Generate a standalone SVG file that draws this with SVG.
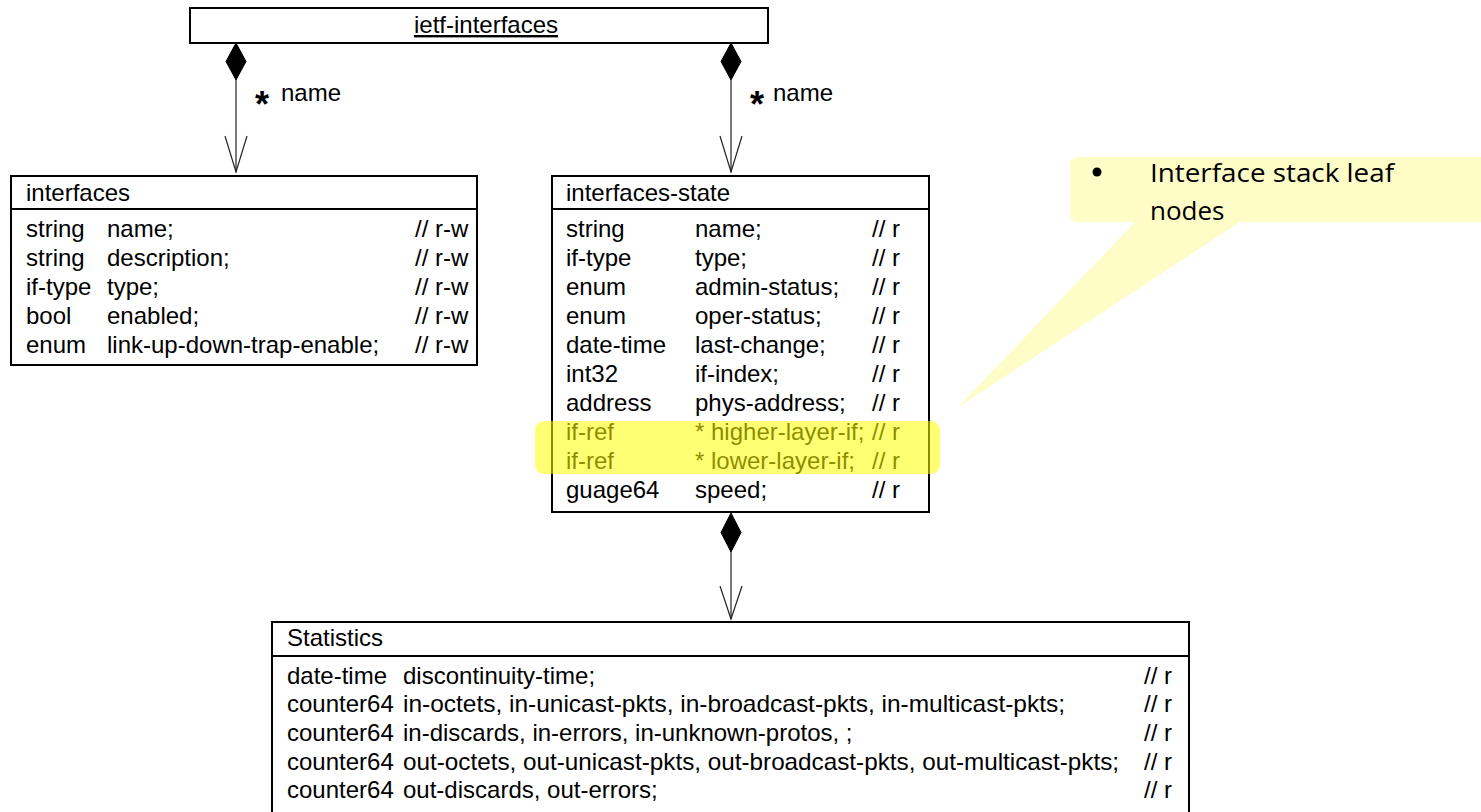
<svg xmlns="http://www.w3.org/2000/svg" width="1481" height="812" viewBox="0 0 1481 812">
<style>
.box{fill:#fff;stroke:#000;stroke-width:2}
.div{stroke:#000;stroke-width:2}
.t{font-family:"Liberation Sans",Arial,sans-serif;font-size:24px;fill:#000}
.conn{stroke:#222;stroke-width:1.2;fill:none}
.dia{fill:#000;stroke:#000;stroke-width:1}
.star{font-family:"Liberation Sans",Arial,sans-serif;font-size:36px;font-weight:bold;fill:#000}
.call{font-family:"Open Sans","Noto Sans",sans-serif;font-size:26px;fill:#000}
</style>

<g id="callout">
  <path d="M1078 157 H1490 V222 H1240 L957 408 L1135 222 H1078 Q1070 222 1070 214 V165 Q1070 157 1078 157 Z" fill="#fefdc8"/>
  <circle cx="1097" cy="172" r="4.5" fill="#000"/>
  <text class="call" x="1150" y="182" textLength="244" lengthAdjust="spacingAndGlyphs">Interface stack leaf</text>
  <text class="call" x="1150" y="220">nodes</text>
</g>

<g id="ietf-interfaces">
  <rect class="box" x="190" y="8" width="578" height="35"/>
  <text class="t" x="486" y="33" text-anchor="middle" text-decoration="underline">ietf-interfaces</text>
</g>

<g id="interfaces">
  <rect class="box" x="11" y="176" width="466" height="189"/>
  <line class="div" x1="11" y1="209" x2="477" y2="209"/>
  <text class="t" x="26" y="201">interfaces</text>
  <text class="t" x="26" y="237">string</text><text class="t" x="107" y="237">name;</text><text class="t" x="415" y="237">// r-w</text>
  <text class="t" x="26" y="266">string</text><text class="t" x="107" y="266">description;</text><text class="t" x="415" y="266">// r-w</text>
  <text class="t" x="26" y="295">if-type</text><text class="t" x="107" y="295">type;</text><text class="t" x="415" y="295">// r-w</text>
  <text class="t" x="26" y="324">bool</text><text class="t" x="107" y="324">enabled;</text><text class="t" x="415" y="324">// r-w</text>
  <text class="t" x="26" y="353">enum</text><text class="t" x="107" y="353">link-up-down-trap-enable;</text><text class="t" x="415" y="353">// r-w</text>
</g>

<g id="interfaces-state">
  <rect class="box" x="552" y="176" width="377" height="336"/>
  <line class="div" x1="552" y1="209" x2="929" y2="209"/>
  <text class="t" x="566" y="201">interfaces-state</text>
  <text class="t" x="566" y="237">string</text><text class="t" x="695" y="237">name;</text><text class="t" x="872" y="237">// r</text>
  <text class="t" x="566" y="266">if-type</text><text class="t" x="695" y="266">type;</text><text class="t" x="872" y="266">// r</text>
  <text class="t" x="566" y="295">enum</text><text class="t" x="695" y="295">admin-status;</text><text class="t" x="872" y="295">// r</text>
  <text class="t" x="566" y="324">enum</text><text class="t" x="695" y="324">oper-status;</text><text class="t" x="872" y="324">// r</text>
  <text class="t" x="566" y="353">date-time</text><text class="t" x="695" y="353">last-change;</text><text class="t" x="872" y="353">// r</text>
  <text class="t" x="566" y="382">int32</text><text class="t" x="695" y="382">if-index;</text><text class="t" x="872" y="382">// r</text>
  <text class="t" x="566" y="411">address</text><text class="t" x="695" y="411">phys-address;</text><text class="t" x="872" y="411">// r</text>
  <text class="t" x="566" y="440">if-ref</text><text class="t" x="695" y="440">* higher-layer-if;</text><text class="t" x="872" y="440">// r</text>
  <text class="t" x="566" y="469">if-ref</text><text class="t" x="695" y="469">* lower-layer-if;</text><text class="t" x="872" y="469">// r</text>
  <text class="t" x="566" y="498">guage64</text><text class="t" x="695" y="498">speed;</text><text class="t" x="872" y="498">// r</text>
</g>

<g id="highlight">
  <rect x="535" y="421" width="405" height="53" rx="9" fill="#ffff00" fill-opacity="0.55"/>
</g>

<g id="statistics">
  <rect class="box" x="272" y="622" width="917" height="200"/>
  <line class="div" x1="272" y1="656" x2="1189" y2="656"/>
  <text class="t" x="287" y="646">Statistics</text>
  <text class="t" x="287" y="684">date-time</text><text class="t" x="403" y="684">discontinuity-time;</text><text class="t" x="1144" y="684">// r</text>
  <text class="t" x="287" y="712">counter64</text><text class="t" x="403" y="712" textLength="662" lengthAdjust="spacingAndGlyphs">in-octets, in-unicast-pkts, in-broadcast-pkts, in-multicast-pkts;</text><text class="t" x="1144" y="712">// r</text>
  <text class="t" x="287" y="741">counter64</text><text class="t" x="403" y="741">in-discards, in-errors, in-unknown-protos, ;</text><text class="t" x="1144" y="741">// r</text>
  <text class="t" x="287" y="770">counter64</text><text class="t" x="403" y="770" textLength="716" lengthAdjust="spacingAndGlyphs">out-octets, out-unicast-pkts, out-broadcast-pkts, out-multicast-pkts;</text><text class="t" x="1144" y="770">// r</text>
  <text class="t" x="287" y="798">counter64</text><text class="t" x="403" y="798">out-discards, out-errors;</text><text class="t" x="1144" y="798">// r</text>
</g>

<g id="connectors">
  <polygon class="dia" points="236,43 246,61.5 236,80 226,61.5"/>
  <line class="conn" x1="236" y1="80" x2="236" y2="172"/>
  <polyline class="conn" points="225,136 236,172 247,136"/>
  <text class="star" x="255" y="117">*</text>
  <text class="t" x="281" y="101">name</text>

  <polygon class="dia" points="731,43 741,61.5 731,80 721,61.5"/>
  <line class="conn" x1="731" y1="80" x2="731" y2="172"/>
  <polyline class="conn" points="720,136 731,172 742,136"/>
  <text class="star" x="750" y="117">*</text>
  <text class="t" x="773" y="101">name</text>

  <polygon class="dia" points="731,513 741,532.5 731,552 721,532.5"/>
  <line class="conn" x1="731" y1="552" x2="731" y2="619"/>
  <polyline class="conn" points="720,586 731,619 742,586"/>
</g>
</svg>
